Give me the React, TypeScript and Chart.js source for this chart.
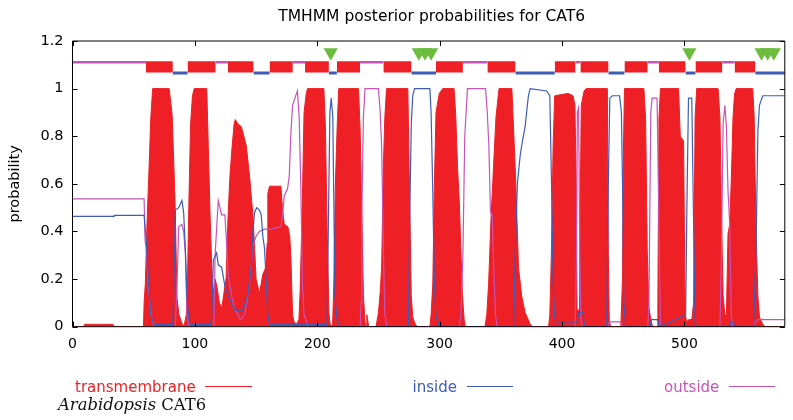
import React, { useEffect, useRef } from "react";
import { Chart, registerables } from "chart.js";

Chart.register(...registerables);

// ---- sequence / axis ----
const SEQ_LENGTH = 582;
const X_TICKS = [0, 100, 200, 300, 400, 500];
const Y_TICKS = [0, 0.2, 0.4, 0.6, 0.8, 1, 1.2];
const TITLE = "TMHMM posterior probabilities for CAT6";

// ---- posterior probability: transmembrane ----
const tmPos = [
  0, 9, 10, 33, 34, 58, 58.5, 59.5, 61, 62.5, 64, 65.5, 79, 81.4, 83, 84, 85.4, 87, 89, 91,
  93, 94, 95, 96.5, 98, 99.5, 109.7, 111, 112.4, 113.7, 115, 116.5, 118, 120, 122, 124, 125.5,
  127, 128.5, 130, 132, 133, 135.5, 138, 140, 142, 144.7, 147.4, 148.8, 150, 152.8, 155.5, 158,
  159, 159.6, 161, 170.3, 171.5, 173, 176, 177.5, 178.4, 179.8, 181, 183, 185, 186, 187.9, 189.2,
  191, 192, 205.4, 206.7, 208, 209.5, 210.5, 212.5, 213.5, 214.8, 216.2, 217.5, 233.7, 235, 236.4,
  237.7, 239, 240, 240.5, 242, 248, 250, 251.5, 252.6, 254, 255.2, 256.6, 274, 275.5, 276.8, 278,
  280, 282, 292, 293, 294.4, 295.7, 297, 299.7, 302.5, 311.8, 313.2, 314.6, 316, 317.3, 318.6, 320,
  321, 337, 338.5, 340, 342, 344, 346, 348.5, 359, 361.7, 363, 364.4, 367, 369.8, 374, 376, 389, 390,
  391.4, 392.7, 394, 405, 409, 410.5, 411.6, 412.3, 414.3, 415, 415.7, 418, 419.7, 437, 437.8,
  438.6, 440, 448, 449.4, 450, 451, 466.9, 468.3, 469.6, 471, 472.5, 474, 478, 478.3, 479.2, 480.4,
  495.2, 496.6, 499.3, 500.6, 502, 503.5, 506, 507.5, 508.7, 510, 527.5, 529, 530.2, 531.6, 533,
  534.3, 535.6, 537, 538.3, 539.7, 541, 542.3, 555.8, 557, 558.5, 560, 561.3, 564, 566, 582,
];
const tmProb = [
  0, 0, 0.01, 0.01, 0, 0, 0.1, 0.18, 0.45, 0.66, 0.88, 1, 1, 0.89, 0.65, 0.48, 0.12, 0.05, 0.02, 0,
  0.05, 0.2, 0.5, 0.85, 0.97, 1, 1, 0.75, 0.47, 0.26, 0.14, 0.2, 0.17, 0.1, 0.08, 0.15, 0.2,
  0.45, 0.62, 0.73, 0.85, 0.87, 0.85, 0.84, 0.8, 0.76, 0.63, 0.47, 0.33, 0.2, 0.14, 0.22, 0.25,
  0.35, 0.56, 0.59, 0.59, 0.5, 0.43, 0.42, 0.38, 0.3, 0.05, 0.02, 0.01, 0.03, 0.15, 0.55, 0.9,
  0.98, 1, 1, 0.83, 0.42, 0.06, 0.01, 0, 0.18, 0.6, 0.83, 1, 1, 0.83, 0.48,
  0.13, 0.02, 0, 0.05, 0, 0, 0.06, 0.15, 0.25, 0.67, 0.88, 1, 1, 0.53, 0.13, 0.04,
  0.01, 0, 0, 0.05, 0.18, 0.6, 0.9, 0.98, 1, 1, 0.88, 0.67, 0.53, 0.33, 0.13, 0.03,
  0, 0, 0.05, 0.18, 0.46, 0.67, 0.88, 1, 1, 0.67, 0.48, 0.25, 0.13, 0.06, 0.01, 0, 0, 0.05,
  0.33, 0.76, 0.97, 0.98, 0.97, 0.93, 0.6, 0.07, 0.07, 0.6, 0.93, 0.99, 1, 1, 0.3,
  0.02, 0, 0, 0.2, 0.7, 1, 1, 0.87, 0.32, 0.08, 0.03, 0, 0, 0.1, 0.88, 1,
  1, 0.8, 0.78, 0.05, 0.02, 0.03, 0.03, 0.1, 0.88, 1, 1, 0.88, 0.48, 0.13, 0.05,
  0.05, 0.39, 0.43, 0.62, 0.88, 0.98, 1, 1, 0.88, 0.4, 0.13, 0.04, 0.01, 0, 0,
];

// ---- posterior probability: inside ----
const insidePos = [
  0, 34, 34.1, 58.5, 59.3, 60.3, 62, 63.9, 66.6, 82, 82.7, 84.1, 86.8, 89.4, 90.8, 92.2, 93.5, 94.9,
  96, 113, 113.7, 115.1, 117.8, 119.1, 121.8, 123.2, 124.5, 127.2, 130, 132.6, 139, 140.7, 143.4,
  146, 147.4, 148.8, 150.5, 152.8, 154.2, 155.5, 156.9, 158.2, 159.6, 161, 208, 209.5, 210.3,
  211.4, 212.7, 213.5, 214.4, 216.2, 218.9, 274.5, 275.5, 276.8, 278, 279.5, 292, 293, 294.4,
  295.7, 297, 300, 360.5, 361.7, 363.5, 365.8, 367, 369.8, 372.5, 374, 387.4, 390, 391.4, 392.7,
  394, 395, 410, 412, 414, 417, 418.5, 436.5, 437.8, 439, 441, 447, 448.5, 449.4, 450.5, 452, 472,
  473, 478, 479.5, 501, 502, 503.3, 506, 507.3, 508.7, 510, 537, 538, 540, 541, 556.5, 558.5, 560,
  561.3, 564, 582,
];
const insideProb = [
  0.463, 0.463, 0.468, 0.468, 0.42, 0.36, 0.2, 0.05, 0.01, 0.01, 0.15, 0.49, 0.5, 0.53, 0.48, 0.33,
  0.13, 0.03, 0.01, 0.01, 0.05, 0.28, 0.31, 0.26, 0.25, 0.21, 0.17, 0.13, 0.1, 0.07, 0.07, 0.09,
  0.14, 0.25, 0.4, 0.48, 0.5, 0.49, 0.47, 0.38, 0.33, 0.2, 0.05, 0.01, 0.01, 0.6, 0.9, 0.96, 0.88,
  0.53, 0.13, 0.03, 0, 0, 0.45, 0.85, 0.97, 1, 1, 0.9, 0.56, 0.18, 0.04, 0, 0, 0.3, 0.6, 0.72,
  0.76, 0.84, 0.97, 1, 0.99, 0.97, 0.6, 0.18, 0.04, 0.02, 0.02, 0.02, 0.06, 0.06, 0, 0, 0.6, 0.96,
  0.97, 0.97, 0.9, 0.6, 0.1, 0, 0, 0.03, 0.03, 0, 0.05, 0.5, 0.96, 0.96, 0.5, 0.02, 0, 0, 0.02,
  0.02, 0, 0, 0.33, 0.82, 0.93, 0.97, 0.97,
];

// ---- posterior probability: outside ----
const outsidePos = [
  0, 58.5, 59.3, 60.3, 62, 65.2, 67, 84, 85.4, 86.8, 89.4, 90.8, 92.2, 93.5, 95, 115.5, 116.5,
  119.1, 120.5, 121.8, 124.5, 125.8, 127.2, 130, 132.6, 135.3, 137, 140.7, 144.8, 147.4, 150,
  152.8, 156.9, 162.2, 170.3, 171.7, 173, 175.7, 177.1, 178.4, 179.8, 182.4, 183.8, 185.2, 186.5,
  187.9, 189.2, 192, 194, 235, 235.8, 236.4, 237.7, 239, 250, 251.2, 252.6, 254, 255.2, 257, 316,
  317.3, 319, 320.5, 322.7, 337.5, 338.9, 340.2, 341.5, 343, 344.2, 345.6, 347, 410.8, 411.8,
  412.5, 413.5, 414.5, 415.5, 416.5, 437.5, 438.5, 448, 449.5, 470, 471, 472.5, 473.6, 477.6, 479,
  480.4, 529, 530.2, 531.6, 533, 534.3, 535.6, 537, 538.3, 539.5, 556, 558, 560, 582,
];
const outsideProb = [
  0.537, 0.537, 0.36, 0.33, 0.16, 0.02, 0, 0, 0.18, 0.42, 0.43, 0.4, 0.31, 0.05, 0, 0, 0.3,
  0.53, 0.5, 0.47, 0.47, 0.36, 0.22, 0.13, 0.07, 0.05, 0.03, 0.05, 0.18, 0.34, 0.38,
  0.4, 0.41, 0.41, 0.42, 0.47, 0.55, 0.58, 0.63, 0.81, 0.93, 0.97, 0.99, 0.88, 0.6,
  0.18, 0.05, 0.01, 0, 0, 0.1, 0.48, 0.88, 1, 1, 0.92, 0.76, 0.33, 0.05, 0, 0,
  0.05, 0.3, 0.8, 1, 1, 0.9, 0.76, 0.48, 0.47, 0.25, 0.05, 0, 0, 0.3,
  0.9, 0.92, 0.3, 0.02, 0, 0, 0.02, 0.02, 0, 0, 0.1, 0.9, 0.96, 0.96, 0.5,
  0, 0, 0.3, 0.85, 0.93, 0.84, 0.57, 0.43, 0.05, 0, 0, 0.02, 0.03, 0.03,
];

// ---- predicted topology ----
const helixStart = [60, 94, 127, 161, 190, 216, 254, 297, 339, 394, 415, 451, 479, 509, 541];
const helixEnd = [82, 117, 148, 180, 209.5, 235, 277, 319, 362, 411, 438, 470, 501, 531, 558];
const glycoSites = [211, 283, 288, 293, 504, 563, 568, 573];

// ---- series appearance ----
const RED = "#ee1f25";
const BLUE = "#3c5cb8";
const MAGENTA = "#c653b6";
const GREEN = "#6cbd3e";
const FONT = "DejaVu Sans";

const LEVEL_OUT = 1.111;
const LEVEL_IN = 1.066;
const BOX_TOP = 1.115;
const BOX_BOTTOM = 1.068;
const LEVEL_GLYCO = 1.152;

const pts = (xs: number[], ys: number[]) => xs.map((x, i) => ({ x, y: ys[i] }));

// loops alternate outside / inside, starting outside at the N-terminus
function loopLines() {
  const bounds: [number, number][] = [];
  let prev = 0;
  helixStart.forEach((s, i) => {
    bounds.push([prev, s]);
    prev = helixEnd[i];
  });
  bounds.push([prev, SEQ_LENGTH]);
  const outside: any[] = [];
  const inside: any[] = [];
  bounds.forEach(([a, b], i) => {
    const target = i % 2 === 0 ? outside : inside;
    const lvl = i % 2 === 0 ? LEVEL_OUT : LEVEL_IN;
    target.push({ x: a, y: lvl }, { x: b, y: lvl }, { x: b, y: null });
  });
  return { outside, inside };
}

// plot title centred over the plot area
const titlePlugin = {
  id: "plotTitle",
  afterDraw(chart: any) {
    const { ctx, chartArea: a } = chart;
    ctx.save();
    ctx.fillStyle = "#000";
    ctx.font = `15.5px "${FONT}"`;
    ctx.textAlign = "center";
    ctx.textBaseline = "alphabetic";
    ctx.fillText(TITLE, (a.left + a.right) / 2 + 3, 20.5);
    ctx.restore();
  },
};

// closed frame with inward, mirrored tick marks
const framePlugin = {
  id: "gnuplotFrame",
  afterDatasetsDraw(chart: any) {
    const { ctx, chartArea: a, scales } = chart;
    const t = 5;
    ctx.save();
    ctx.strokeStyle = "#000";
    ctx.lineWidth = 1;
    ctx.beginPath();
    ctx.rect(a.left, a.top, a.right - a.left, a.bottom - a.top);
    for (const tk of scales.x.ticks) {
      const px = Math.round(scales.x.getPixelForValue(tk.value)) + 0.5;
      ctx.moveTo(px, a.bottom);
      ctx.lineTo(px, a.bottom - t);
      ctx.moveTo(px, a.top);
      ctx.lineTo(px, a.top + t);
    }
    for (const tk of scales.y.ticks) {
      const py = Math.round(scales.y.getPixelForValue(tk.value)) + 0.5;
      ctx.moveTo(a.left, py);
      ctx.lineTo(a.left + t, py);
      ctx.moveTo(a.right, py);
      ctx.lineTo(a.right - t, py);
    }
    ctx.stroke();
    ctx.restore();
  },
};

const legendItems = [
  { label: "transmembrane", color: RED, textLeft: 75, lineLeft: 205 },
  { label: "inside", color: BLUE, textLeft: 412.5, lineLeft: 466.5 },
  { label: "outside", color: MAGENTA, textLeft: 664, lineLeft: 728.5 },
];

export default function App() {
  const ref = useRef<HTMLCanvasElement>(null);

  useEffect(() => {
    const { outside, inside } = loopLines();
    const helixBoxes = helixStart.map((s, i) => ({
      data: [
        { x: s, y: BOX_TOP },
        { x: helixEnd[i], y: BOX_TOP },
      ],
      fill: { value: BOX_BOTTOM },
      backgroundColor: RED,
      borderColor: "rgba(0,0,0,0)",
      borderWidth: 1,
      pointRadius: 0,
      order: 4,
    }));

    const chart = new Chart(ref.current as HTMLCanvasElement, {
      type: "line",
      data: {
        datasets: [
          {
            label: "glycosylation",
            data: glycoSites.map((x) => ({ x, y: LEVEL_GLYCO })),
            showLine: false,
            pointStyle: "triangle",
            rotation: 180,
            pointRadius: 8.2,
            pointBackgroundColor: GREEN,
            pointBorderWidth: 0,
            pointBorderColor: GREEN,
            order: 0,
          },
          {
            label: "inside",
            data: pts(insidePos, insideProb),
            borderColor: BLUE,
            borderWidth: 1.2,
            pointRadius: 0,
            fill: false,
            order: 1,
          },
          {
            label: "outside",
            data: pts(outsidePos, outsideProb),
            borderColor: MAGENTA,
            borderWidth: 1.2,
            pointRadius: 0,
            fill: false,
            order: 2,
          },
          {
            label: "outside loops",
            data: outside,
            borderColor: MAGENTA,
            borderWidth: 2.4,
            pointRadius: 0,
            spanGaps: false,
            fill: false,
            order: 3,
          },
          {
            label: "inside loops",
            data: inside,
            borderColor: BLUE,
            borderWidth: 3,
            pointRadius: 0,
            spanGaps: false,
            fill: false,
            order: 3,
          },
          ...helixBoxes,
          {
            label: "transmembrane",
            data: pts(tmPos, tmProb),
            borderColor: RED,
            backgroundColor: RED,
            borderWidth: 1,
            pointRadius: 0,
            fill: "origin",
            order: 5,
          },
        ] as any,
      },
      options: {
        responsive: false,
        animation: false,
        layout: { padding: { left: 0, right: 1, top: 41, bottom: 0 } },
        plugins: {
          legend: { display: false },
          tooltip: { enabled: false },
          title: { display: false },
        },
        scales: {
          x: {
            type: "linear",
            min: 0,
            max: SEQ_LENGTH,
            grid: { display: false, drawTicks: false },
            border: { display: false },
            afterFit: (s: any) => {
              s.height = 93.3;
            },
            afterBuildTicks: (s: any) => {
              s.ticks = X_TICKS.map((v) => ({ value: v }));
            },
            ticks: {
              color: "#000",
              padding: 9,
              font: { family: FONT, size: 14 },
              callback: (v: any) => String(v),
            },
          },
          y: {
            type: "linear",
            min: 0,
            max: 1.2,
            grid: { display: false, drawTicks: false },
            border: { display: false },
            afterFit: (s: any) => {
              s.width = 72.5;
            },
            afterBuildTicks: (s: any) => {
              s.ticks = Y_TICKS.map((v) => ({ value: v }));
            },
            ticks: {
              color: "#000",
              padding: 9,
              font: { family: FONT, size: 14.5 },
              callback: (v: any) => String(v),
            },
            title: {
              display: true,
              text: "probability",
              color: "#000",
              font: { family: FONT, size: 14.5 },
              padding: { top: 6.3, bottom: 0 },
            },
          },
        },
      } as any,
      plugins: [framePlugin, titlePlugin],
    });
    return () => chart.destroy();
  }, []);

  return (
    <div
      style={{
        position: "absolute",
        left: 0,
        top: 0,
        width: 793,
        height: 420,
        background: "#fff",
        overflow: "hidden",
      }}
    >
      <canvas ref={ref} width={793} height={420} style={{ display: "block" }} />
      {legendItems.map((it) => (
        <React.Fragment key={it.label}>
          <div
            style={{
              position: "absolute",
              left: it.textLeft,
              top: 377.5,
              font: `15px "${FONT}"`,
              lineHeight: "18px",
              color: it.color,
              whiteSpace: "nowrap",
            }}
          >
            {it.label}
          </div>
          <div
            style={{
              position: "absolute",
              left: it.lineLeft,
              top: 386,
              width: 46.5,
              height: 1.2,
              background: it.color,
            }}
          />
        </React.Fragment>
      ))}
      <div
        style={{
          position: "absolute",
          left: 58,
          top: 395.5,
          font: '16.4px "DejaVu Serif"',
          lineHeight: "18px",
          color: "#111",
          whiteSpace: "nowrap",
        }}
      >
        <i>Arabidopsis</i> CAT6
      </div>
    </div>
  );
}
